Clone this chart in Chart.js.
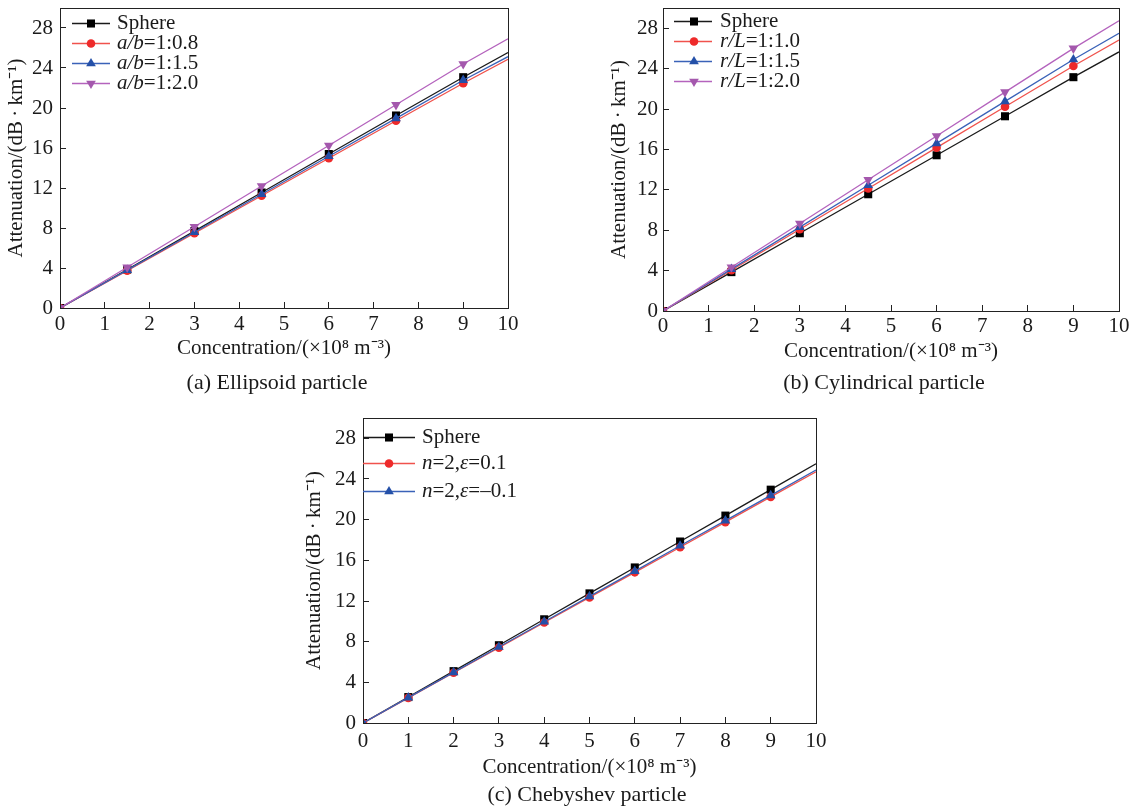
<!DOCTYPE html>
<html>
<head>
<meta charset="utf-8">
<script src="https://cdn.jsdelivr.net/npm/chart.js@4.4.0/dist/chart.umd.min.js"></script>
<style>
html,body{margin:0;padding:0;background:#fff;width:1142px;height:811px;overflow:hidden;}
.panel{position:absolute;}
.panel canvas{display:block;}
.cap{position:absolute;font-family:"Liberation Serif","Times New Roman",serif;font-size:22px;color:#1a1a1a;white-space:nowrap;transform:translate(-50%,-50%);line-height:1;}
</style>
</head>
<body>
<div class="panel" style="left:0px;top:0px;"><canvas id="chartA" width="560" height="370"></canvas></div>
<div class="panel" style="left:600px;top:0px;"><canvas id="chartB" width="542" height="370"></canvas></div>
<div class="panel" style="left:300px;top:410px;"><canvas id="chartC" width="542" height="401"></canvas></div>
<div class="cap" id="capA" style="left:277px;top:382px;"></div>
<div class="cap" id="capB" style="left:884px;top:382px;"></div>
<div class="cap" id="capC" style="left:587px;top:794px;"></div>
<script>
// ---------------- data ----------------
const xEllipsoid = [0, 1.5, 3, 4.5, 6, 7.5, 9, 10];
const sphereEllipsoid = [0, 3.84, 7.69, 11.55, 15.4, 19.25, 23.08, 25.55];
const ellipsoid08 = [0, 3.74, 7.48, 11.23, 14.98, 18.72, 22.47, 24.88];
const ellipsoid15 = [0, 3.79, 7.58, 11.38, 15.17, 18.96, 22.78, 25.13];
const ellipsoid20 = [0, 4.07, 8.13, 12.2, 16.25, 20.32, 24.4, 26.93];

const xCylinder = [0, 1.5, 3, 4.5, 6, 7.5, 9, 10];
const sphereCylinder = [0, 3.85, 7.7, 11.56, 15.42, 19.28, 23.15, 25.65];
const cylinder10 = [0, 4.04, 8.09, 12.13, 16.17, 20.22, 24.26, 26.83];
const cylinder15 = [0, 4.15, 8.3, 12.45, 16.6, 20.75, 24.9, 27.49];
const cylinder20 = [0, 4.33, 8.67, 13.0, 17.33, 21.67, 26.0, 28.74];

const xChebyshev = [0, 1, 2, 3, 4, 5, 6, 7, 8, 9, 10];
const sphereChebyshev = [0, 2.55, 5.1, 7.65, 10.2, 12.75, 15.3, 17.85, 20.4, 22.95, 25.5];
const chebyshevPos = [0, 2.47, 4.94, 7.41, 9.88, 12.35, 14.82, 17.29, 19.76, 22.24, 24.71];
const chebyshevNeg = [0, 2.49, 4.98, 7.47, 9.96, 12.45, 14.94, 17.43, 19.91, 22.39, 24.88];

const namesEllipsoid = ['Sphere', 'a/b=1:0.8', 'a/b=1:1.5', 'a/b=1:2.0'];
const namesCylinder = ['Sphere', 'r/L=1:1.0', 'r/L=1:1.5', 'r/L=1:2.0'];
const namesChebyshev = ['Sphere', 'n=2,\u03b5=0.1', 'n=2,\u03b5=\u20130.1'];
const italicEllipsoid = ['a/b'];
const italicCylinder = ['r/L'];
const italicChebyshev = ['n', '\u03b5'];

const xTickValues = [0, 1, 2, 3, 4, 5, 6, 7, 8, 9, 10];
const yTickValues = [0, 4, 8, 12, 16, 20, 24, 28];
const xTitle = 'Concentration/(\u00d710\u2078 m\u207b\u00b3)';
const yTitle = 'Attenuation/(dB\u2009\u00b7\u2009km\u207b\u00b9)';
const captions = ['(a) Ellipsoid particle', '(b) Cylindrical particle', '(c) Chebyshev particle'];

// ---------------- style ----------------
const FONT = '"Liberation Serif", "Times New Roman", serif';
const TXT = '#1a1a1a';
const AXIS = '#222222';
const STYLES = [
  {line: '#1a1a1a', fill: '#000000', shape: 'rect', r: 5.7, rot: 0},
  {line: '#f0524c', fill: '#ee2a2a', shape: 'circle', r: 4.3, rot: 0},
  {line: '#3a62b8', fill: '#2450a8', shape: 'triangle', r: 5.6, rot: 0},
  {line: '#b463bd', fill: '#a458ad', shape: 'triangle', r: 5.6, rot: 180}
];

function splitItalic(text, tokens) {
  if (!tokens || !tokens.length) return [{t: text, it: false}];
  const esc = tokens.map(s => s.replace(/[.*+?^${}()|[\]\\\/]/g, '\\$&'));
  const parts = text.split(new RegExp('(' + esc.join('|') + ')'));
  return parts.filter(p => p.length).map(p => ({t: p, it: tokens.indexOf(p) >= 0}));
}

const framePlugin = {
  id: 'frame',
  afterDatasetsDraw(chart) {
    const {ctx, chartArea: a} = chart;
    ctx.save();
    ctx.strokeStyle = AXIS;
    ctx.lineWidth = 1;
    ctx.strokeRect(Math.round(a.left) + 0.5, Math.round(a.top) + 0.5,
      Math.round(a.right) - Math.round(a.left), Math.round(a.bottom) - Math.round(a.top));
    ctx.restore();
  }
};

const legendPlugin = {
  id: 'insideLegend',
  afterDraw(chart, args, opts) {
    const {ctx, chartArea: a} = chart;
    chart.data.datasets.forEach((ds, i) => {
      const st = STYLES[i];
      const y = Math.round(a.top + opts.rowY[i]) + 0.5;
      ctx.save();
      ctx.strokeStyle = st.line;
      ctx.lineWidth = 1.3;
      ctx.beginPath();
      ctx.moveTo(a.left + opts.lineX0, y);
      ctx.lineTo(a.left + opts.lineX1, y);
      ctx.stroke();
      ctx.fillStyle = st.fill;
      Chart.helpers.drawPoint(ctx, {pointStyle: st.shape, radius: st.r, rotation: st.rot, borderWidth: 0}, a.left + opts.markX, y);
      let x = a.left + opts.textX;
      ctx.textBaseline = 'middle';
      ctx.textAlign = 'left';
      ctx.fillStyle = TXT;
      splitItalic(ds.label, opts.italics).forEach(seg => {
        ctx.font = (seg.it ? 'italic ' : '') + opts.size + 'px ' + FONT;
        ctx.fillText(seg.t, x, y);
        x += ctx.measureText(seg.t).width;
      });
      ctx.restore();
    });
  }
};

function build(id, xs, series, names, italics, L) {
  const datasets = series.map((ys, i) => {
    const st = STYLES[i];
    return {
      label: names[i],
      data: xs.map((x, j) => ({x: x, y: ys[j]})),
      borderColor: st.line,
      backgroundColor: st.fill,
      borderWidth: 1.3,
      pointStyle: st.shape,
      pointRotation: st.rot,
      pointBackgroundColor: st.fill,
      pointBorderColor: st.fill,
      pointBorderWidth: 0,
      pointRadius: c => (c.dataIndex === xs.length - 1 ? 0 : st.r),
      tension: 0,
      fill: false,
      order: -i
    };
  });
  const tickFont = {family: FONT, size: 21, lineHeight: 1.2};
  const zeroPad = s => { s.paddingLeft = 0; s.paddingRight = 0; s.paddingTop = 0; s.paddingBottom = 0; };
  return new Chart(document.getElementById(id), {
    type: 'line',
    data: {datasets: datasets},
    plugins: [framePlugin, legendPlugin],
    options: {
      responsive: false,
      animation: false,
      devicePixelRatio: 1,
      events: [],
      layout: {padding: {left: 0, top: L.top, right: L.right, bottom: 0}},
      plugins: {
        legend: {display: false},
        tooltip: {enabled: false},
        insideLegend: L.legend
      },
      scales: {
        x: {
          type: 'linear', min: 0, max: 10,
          afterBuildTicks: s => { s.ticks = xTickValues.map(v => ({value: v})); },
          ticks: {font: tickFont, color: TXT, padding: L.xTickPad, maxRotation: 0, autoSkip: false, callback: v => String(v)},
          grid: {display: true, drawOnChartArea: false, drawTicks: true, tickLength: -6, color: AXIS, lineWidth: 1},
          border: {display: true, color: AXIS, width: 1},
          title: {display: true, text: xTitle, color: TXT, font: tickFont, padding: {top: 0, bottom: L.xTitlePad}},
          afterFit: s => { s.height = L.xH; zeroPad(s); }
        },
        y: {
          type: 'linear', min: 0, max: 30,
          afterBuildTicks: s => { s.ticks = yTickValues.map(v => ({value: v})); },
          ticks: {font: tickFont, color: TXT, padding: L.yTickPad, autoSkip: false, callback: v => String(v)},
          grid: {display: true, drawOnChartArea: false, drawTicks: true, tickLength: -6, color: AXIS, lineWidth: 1},
          border: {display: true, color: AXIS, width: 1},
          title: {display: true, text: yTitle, color: TXT, font: tickFont, padding: {top: L.yTitlePad, bottom: 0}},
          afterFit: s => { s.width = L.yW; zeroPad(s); }
        }
      }
    }
  });
}

build('chartA', xEllipsoid, [sphereEllipsoid, ellipsoid08, ellipsoid15, ellipsoid20], namesEllipsoid, italicEllipsoid, {
  top: 8, right: 52, yW: 60, xH: 62, xTickPad: 10, xTitlePad: 9, yTickPad: 13, yTitlePad: 4,
  legend: {rowY: [15, 35, 55, 75], lineX0: 12, lineX1: 50, markX: 31, textX: 57, size: 21, italics: italicEllipsoid}
});
build('chartB', xCylinder, [sphereCylinder, cylinder10, cylinder15, cylinder20], namesCylinder, italicCylinder, {
  top: 8, right: 23, yW: 63, xH: 59, xTickPad: 9, xTitlePad: 6, yTickPad: 11, yTitlePad: 7,
  legend: {rowY: [13, 33, 53, 73], lineX0: 11, lineX1: 49, markX: 31, textX: 57, size: 21, italics: italicCylinder}
});
build('chartC', xChebyshev, [sphereChebyshev, chebyshevPos, chebyshevNeg], namesChebyshev, italicChebyshev, {
  top: 8, right: 26, yW: 63, xH: 88, xTickPad: 12, xTitlePad: 31, yTickPad: 13, yTitlePad: 2,
  legend: {rowY: [19, 45, 73], lineX0: 0, lineX1: 52, markX: 26, textX: 59, size: 21, italics: italicChebyshev}
});

document.getElementById('capA').textContent = captions[0];
document.getElementById('capB').textContent = captions[1];
document.getElementById('capC').textContent = captions[2];
</script>
</body>
</html>
